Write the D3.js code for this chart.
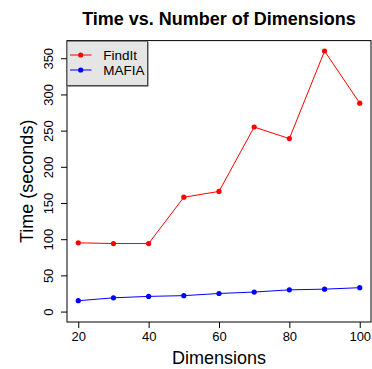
<!DOCTYPE html>
<html><head><meta charset="utf-8">
<script src="https://cdn.jsdelivr.net/npm/d3@7"></script>
<style>body{margin:0;background:#fff}svg{display:block;font-family:"Liberation Sans",Arial,Helvetica,sans-serif}</style>
</head><body>
<script>
const dims = [20, 30, 40, 50, 60, 70, 80, 90, 100];
const findIt = [95, 94, 94, 158, 166, 255, 239, 360, 288];
const mafia = [15, 19, 21, 22, 25, 27, 30, 31, 33];
const seriesNames = ["FindIt", "MAFIA"];
const seriesColors = ["#FF0000", "#0000FF"];
const xTicks = [20, 40, 60, 80, 100];
const yTicks = [0, 50, 100, 150, 200, 250, 300, 350];
const titleText = "Time vs. Number of Dimensions";
const xTitle = "Dimensions";
const yTitle = "Time (seconds)";

const W = 372, H = 369;
const L = 67, R = 371, T = 40.6, B = 322;
const svg = d3.select("body").append("svg").attr("width", W).attr("height", H);

const x = d3.scaleLinear().domain([16.8, 103.2]).range([L, R]);
const y = d3.scaleLinear().domain([-14.4, 374.4]).range([B, T]);

// title
svg.append("text").attr("x", (L + R) / 2).attr("y", 24.5).attr("text-anchor", "middle")
  .attr("font-size", 18).attr("font-weight", "bold").text(titleText);

// axes
const xAxis = d3.axisBottom(x).tickValues(xTicks).tickSize(6).tickPadding(4).tickFormat(d3.format("d"));
const gx = svg.append("g").attr("transform", `translate(0,${B})`).call(xAxis);
gx.select(".domain").remove();
gx.selectAll("text").attr("font-size", 13).attr("fill", "#000").attr("font-family", "Liberation Sans, Arial, sans-serif");
gx.selectAll("line").attr("stroke", "#000");

const yAxis = d3.axisLeft(y).tickValues(yTicks).tickSize(6).tickFormat(d3.format("d"));
const gy = svg.append("g").attr("transform", `translate(${L},0)`).call(yAxis);
gy.select(".domain").remove();
gy.selectAll("line").attr("stroke", "#000");
gy.selectAll("text").attr("font-size", 13).attr("fill", "#000").attr("font-family", "Liberation Sans, Arial, sans-serif")
  .attr("x", 0).attr("dy", null).attr("text-anchor", "middle")
  .attr("transform", d => `translate(-14,0) rotate(-90)`)
  .attr("dy", "0");

// box
svg.append("rect").attr("x", L).attr("y", T).attr("width", R - L).attr("height", B - T)
  .attr("fill", "none").attr("stroke", "#000").attr("stroke-width", 1);

// axis titles
svg.append("text").attr("x", (L + R) / 2).attr("y", 364).attr("text-anchor", "middle")
  .attr("font-size", 18).text(xTitle);
svg.append("text").attr("transform", `translate(32.5,${(T + B) / 2}) rotate(-90)`).attr("text-anchor", "middle")
  .attr("font-size", 18).text(yTitle);

// series
const series = [findIt, mafia];
const line = d3.line().x((d, i) => x(dims[i])).y(d => y(d));
series.forEach((vals, si) => {
  svg.append("path").datum(vals).attr("d", line).attr("fill", "none")
    .attr("stroke", seriesColors[si]).attr("stroke-width", 1);
  svg.append("g").selectAll("circle").data(vals).join("circle")
    .attr("cx", (d, i) => x(dims[i])).attr("cy", d => y(d)).attr("r", 2.6)
    .attr("fill", seriesColors[si]);
});

// legend
const lg = svg.append("g");
lg.append("rect").attr("x", L + 1).attr("y", T + 1.5).attr("width", 80.5).attr("height", 44.5).attr("fill", "#555");
lg.append("rect").attr("x", L).attr("y", T + 0.5).attr("width", 80.5).attr("height", 44.5)
  .attr("fill", "#E5E5E5").attr("stroke", "#333").attr("stroke-width", 0.8);
seriesNames.forEach((name, i) => {
  const yy = 55 + i * 15;
  lg.append("line").attr("x1", 70).attr("x2", 91.5).attr("y1", yy).attr("y2", yy)
    .attr("stroke", seriesColors[i]).attr("stroke-width", 1);
  lg.append("circle").attr("cx", 80.7).attr("cy", yy).attr("r", 2.6).attr("fill", seriesColors[i]);
  lg.append("text").attr("x", 103.3).attr("y", yy + 4.8).attr("font-size", 13.5).text(name);
});
</script>
</body></html>
